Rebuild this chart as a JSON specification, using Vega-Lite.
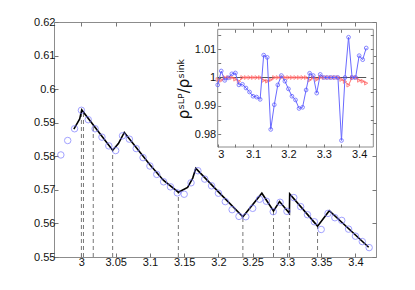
{
  "$schema": "https://vega.github.io/schema/vega-lite/v6.json",
  "width": 322,
  "height": 235,
  "autosize": {"type": "none"},
  "padding": {"left": 54, "top": 22, "right": 39, "bottom": 33},
  "background": "white",
  "config": {
    "view": {"stroke": "#8c8c8c", "strokeWidth": 1},
    "axis": {"labelFont": "Liberation Sans", "labelFontSize": 11, "labelColor": "#111111", "tickColor": "#777777", "domain": false, "grid": false, "titleFont": "DejaVu Sans", "titleColor": "#111111", "titleFontWeight": "normal"}
  },
  "datasets": {
    "pts": [
      {"x": 2.97, "y": 0.5804}, {"x": 2.98, "y": 0.5847}, {"x": 2.99, "y": 0.5882}, {"x": 3.00, "y": 0.5937},
      {"x": 3.01, "y": 0.5909}, {"x": 3.02, "y": 0.5882}, {"x": 3.03, "y": 0.5857}, {"x": 3.04, "y": 0.5831},
      {"x": 3.05, "y": 0.5817}, {"x": 3.06, "y": 0.5861}, {"x": 3.07, "y": 0.5851}, {"x": 3.08, "y": 0.5823},
      {"x": 3.09, "y": 0.5796}, {"x": 3.10, "y": 0.5771}, {"x": 3.11, "y": 0.5746}, {"x": 3.12, "y": 0.5724},
      {"x": 3.13, "y": 0.5709}, {"x": 3.14, "y": 0.5691}, {"x": 3.15, "y": 0.5687}, {"x": 3.16, "y": 0.5721},
      {"x": 3.17, "y": 0.5757}, {"x": 3.18, "y": 0.5732}, {"x": 3.19, "y": 0.5712}, {"x": 3.20, "y": 0.5690},
      {"x": 3.21, "y": 0.5665}, {"x": 3.22, "y": 0.5641}, {"x": 3.23, "y": 0.5621}, {"x": 3.24, "y": 0.5620},
      {"x": 3.25, "y": 0.5645}, {"x": 3.26, "y": 0.5672}, {"x": 3.27, "y": 0.5666}, {"x": 3.28, "y": 0.5635},
      {"x": 3.29, "y": 0.5663}, {"x": 3.30, "y": 0.5636}, {"x": 3.31, "y": 0.5677}, {"x": 3.32, "y": 0.5650},
      {"x": 3.33, "y": 0.5626}, {"x": 3.34, "y": 0.5605}, {"x": 3.35, "y": 0.5582}, {"x": 3.36, "y": 0.5630},
      {"x": 3.37, "y": 0.5617}, {"x": 3.38, "y": 0.5609}, {"x": 3.39, "y": 0.5583}, {"x": 3.40, "y": 0.5562},
      {"x": 3.41, "y": 0.5546}, {"x": 3.42, "y": 0.5528}
    ],
    "fit": [
      {"x": 2.989, "y": 0.5881}, {"x": 2.9975, "y": 0.5911}, {"x": 3.0005, "y": 0.5938}, {"x": 3.0456, "y": 0.5818},
      {"x": 3.054, "y": 0.5838}, {"x": 3.0626, "y": 0.5871}, {"x": 3.08, "y": 0.5826}, {"x": 3.10, "y": 0.5775},
      {"x": 3.12, "y": 0.5728}, {"x": 3.1415, "y": 0.5693}, {"x": 3.155, "y": 0.5707}, {"x": 3.1625, "y": 0.5735},
      {"x": 3.167, "y": 0.5764}, {"x": 3.20, "y": 0.5694}, {"x": 3.2357, "y": 0.5620}, {"x": 3.2634, "y": 0.5690},
      {"x": 3.2804, "y": 0.5637}, {"x": 3.2892, "y": 0.5665}, {"x": 3.3036, "y": 0.5630}, {"x": 3.3040, "y": 0.5688},
      {"x": 3.3447, "y": 0.5592}, {"x": 3.3618, "y": 0.5638}, {"x": 3.4193, "y": 0.5529}
    ],
    "events": [
      {"x": 3.000, "bottom": 0.55, "top": 0.5936}, {"x": 3.003, "bottom": 0.55, "top": 0.5930}, {"x": 3.0173, "bottom": 0.55, "top": 0.5893},
      {"x": 3.0456, "bottom": 0.55, "top": 0.5818}, {"x": 3.1415, "bottom": 0.55, "top": 0.5693}, {"x": 3.2357, "bottom": 0.55, "top": 0.5620},
      {"x": 3.2804, "bottom": 0.55, "top": 0.5637}, {"x": 3.3036, "bottom": 0.55, "top": 0.5630}, {"x": 3.3447, "bottom": 0.55, "top": 0.5592}
    ],
    "box": [
      {"x1": 3.0, "x2": 3.44, "y1": 0.9755, "y2": 1.017, "rx2": 3.42, "ref": 1.0}
    ],
    "ratio": [
      {"x": 3.00, "blue": 0.9974, "red": 0.9993}, {"x": 3.01, "blue": 1.0023, "red": 0.9990},
      {"x": 3.02, "blue": 0.9990, "red": 1.0}, {"x": 3.03, "blue": 0.9999, "red": 1.0},
      {"x": 3.04, "blue": 1.0013, "red": 1.0}, {"x": 3.05, "blue": 1.0016, "red": 0.9994},
      {"x": 3.06, "blue": 0.9974, "red": 0.9986}, {"x": 3.07, "blue": 0.9976, "red": 1.0},
      {"x": 3.08, "blue": 0.9963, "red": 1.0}, {"x": 3.09, "blue": 0.9949, "red": 1.0},
      {"x": 3.10, "blue": 0.9934, "red": 1.0}, {"x": 3.11, "blue": 0.9931, "red": 1.0},
      {"x": 3.12, "blue": 0.9923, "red": 1.0}, {"x": 3.13, "blue": 1.0079, "red": 0.9990},
      {"x": 3.14, "blue": 1.0071, "red": 0.9987}, {"x": 3.15, "blue": 0.9817, "red": 0.9992},
      {"x": 3.16, "blue": 0.9904, "red": 1.0}, {"x": 3.17, "blue": 0.9974, "red": 1.0},
      {"x": 3.18, "blue": 1.0007, "red": 1.0}, {"x": 3.19, "blue": 0.9987, "red": 1.0},
      {"x": 3.20, "blue": 0.9960, "red": 1.0}, {"x": 3.21, "blue": 0.9934, "red": 1.0},
      {"x": 3.22, "blue": 0.9921, "red": 1.0}, {"x": 3.23, "blue": 0.9891, "red": 1.0},
      {"x": 3.24, "blue": 0.9895, "red": 1.0}, {"x": 3.25, "blue": 0.9956, "red": 1.0},
      {"x": 3.26, "blue": 1.0015, "red": 0.9991}, {"x": 3.27, "blue": 1.0007, "red": 1.0},
      {"x": 3.28, "blue": 0.9945, "red": 0.9993}, {"x": 3.29, "blue": 1.0011, "red": 1.0},
      {"x": 3.30, "blue": 1.0, "red": 1.0}, {"x": 3.31, "blue": 1.0, "red": 1.0},
      {"x": 3.32, "blue": 1.0, "red": 1.0}, {"x": 3.33, "blue": 1.0, "red": 1.0},
      {"x": 3.34, "blue": 1.0, "red": 1.0}, {"x": 3.35, "blue": 0.9778, "red": 0.9993},
      {"x": 3.36, "blue": 1.0, "red": 0.9986}, {"x": 3.37, "blue": 1.0142, "red": 0.9973},
      {"x": 3.38, "blue": 1.0, "red": 1.0}, {"x": 3.39, "blue": 1.0, "red": 1.0},
      {"x": 3.40, "blue": 1.0077, "red": 0.9990}, {"x": 3.41, "blue": 1.0063, "red": 0.9987},
      {"x": 3.42, "blue": 1.0104, "red": 0.9980}
    ]
  },
  "layer": [
    {
      "data": {"name": "events"},
      "mark": {"type": "rule", "color": "#777777", "strokeWidth": 1, "strokeDash": [4, 3]},
      "encoding": {
        "x": {"field": "x", "type": "quantitative", "scale": {"domain": [2.96, 3.43], "nice": false, "zero": false}, "axis": null},
        "y": {"field": "bottom", "type": "quantitative", "scale": {"domain": [0.55, 0.62], "nice": false, "zero": false}, "axis": null},
        "y2": {"field": "top"}
      }
    },
    {
      "data": {"name": "fit"},
      "mark": {"type": "line", "color": "black", "strokeWidth": 1.6},
      "encoding": {
        "x": {"field": "x", "type": "quantitative", "scale": {"domain": [2.96, 3.43], "nice": false, "zero": false},
              "axis": {"orient": "top", "values": [3, 3.05, 3.1, 3.15, 3.2, 3.25, 3.3, 3.35, 3.4], "labels": false, "tickSize": -4, "title": null}},
        "y": {"field": "y", "type": "quantitative", "scale": {"domain": [0.55, 0.62], "nice": false, "zero": false},
              "axis": {"orient": "right", "values": [0.55, 0.56, 0.57, 0.58, 0.59, 0.6, 0.61, 0.62], "labels": false, "tickSize": -4, "title": null}}
      }
    },
    {
      "data": {"name": "pts"},
      "mark": {"type": "point", "shape": "circle", "filled": false, "color": "#7b7bff", "size": 42, "strokeWidth": 1},
      "encoding": {
        "x": {"field": "x", "type": "quantitative", "scale": {"domain": [2.96, 3.43], "nice": false, "zero": false},
              "axis": {"orient": "bottom", "values": [3, 3.05, 3.1, 3.15, 3.2, 3.25, 3.3, 3.35, 3.4], "format": "~g", "tickSize": -4, "labelPadding": 3, "title": null}},
        "y": {"field": "y", "type": "quantitative", "scale": {"domain": [0.55, 0.62], "nice": false, "zero": false},
              "axis": {"orient": "left", "values": [0.55, 0.56, 0.57, 0.58, 0.59, 0.6, 0.61, 0.62], "format": "~g", "tickSize": -4, "labelPadding": 3, "title": null}}
      }
    },
    {
      "data": {"name": "box"},
      "mark": {"type": "rect", "fill": "white", "stroke": "#8c8c8c", "strokeWidth": 1},
      "encoding": {
        "x": {"field": "x1", "type": "quantitative", "scale": {"domain": [3.0, 3.44], "range": [163.7, 319.3], "nice": false, "zero": false}, "axis": null},
        "x2": {"field": "x2"},
        "y": {"field": "y1", "type": "quantitative", "scale": {"domain": [0.9755, 1.017], "range": [125, 7.3], "nice": false, "zero": false}, "axis": null},
        "y2": {"field": "y2"}
      }
    },
    {
      "data": {"name": "box"},
      "mark": {"type": "rule", "color": "#555555", "strokeWidth": 1},
      "encoding": {
        "x": {"field": "x1", "type": "quantitative", "scale": {"domain": [3.0, 3.44], "range": [163.7, 319.3], "nice": false, "zero": false}, "axis": null},
        "x2": {"field": "rx2"},
        "y": {"field": "ref", "type": "quantitative", "scale": {"domain": [0.9755, 1.017], "range": [125, 7.3], "nice": false, "zero": false}, "axis": null}
      }
    },
    {
      "data": {"name": "ratio"},
      "mark": {"type": "line", "color": "#ff7272", "strokeWidth": 1},
      "encoding": {
        "x": {"field": "x", "type": "quantitative", "scale": {"domain": [3.0, 3.44], "range": [163.7, 319.3], "nice": false, "zero": false},
              "axis": {"orient": "top", "offset": -7.3, "values": [3.05, 3.1, 3.15, 3.2, 3.25, 3.3, 3.35, 3.4], "labels": false, "tickSize": -3, "title": null, "zindex": 1}},
        "y": {"field": "red", "type": "quantitative", "scale": {"domain": [0.9755, 1.017], "range": [125, 7.3], "nice": false, "zero": false},
              "axis": {"orient": "right", "offset": -2.7, "values": [0.98, 0.985, 0.99, 0.995, 1, 1.005, 1.01, 1.015], "labels": false, "tickSize": -3, "title": null, "zindex": 1}}
      }
    },
    {
      "data": {"name": "ratio"},
      "mark": {"type": "point", "shape": "triangle-right", "filled": false, "color": "#ff5a5a", "size": 14, "strokeWidth": 1},
      "encoding": {
        "x": {"field": "x", "type": "quantitative", "scale": {"domain": [3.0, 3.44], "range": [163.7, 319.3], "nice": false, "zero": false}, "axis": null},
        "y": {"field": "red", "type": "quantitative", "scale": {"domain": [0.9755, 1.017], "range": [125, 7.3], "nice": false, "zero": false}, "axis": null}
      }
    },
    {
      "data": {"name": "ratio"},
      "mark": {"type": "line", "color": "#6a6aff", "strokeWidth": 1},
      "encoding": {
        "x": {"field": "x", "type": "quantitative", "scale": {"domain": [3.0, 3.44], "range": [163.7, 319.3], "nice": false, "zero": false},
              "axis": {"orient": "bottom", "offset": -110, "values": [3, 3.05, 3.1, 3.15, 3.2, 3.25, 3.3, 3.35, 3.4], "labelExpr": "indexof([3, 3.1, 3.2, 3.3, 3.4], datum.value) >= 0 ? format(datum.value, '~g') : ''", "tickSize": -3, "labelPadding": 4, "title": null, "zindex": 1}},
        "y": {"field": "blue", "type": "quantitative", "scale": {"domain": [0.9755, 1.017], "range": [125, 7.3], "nice": false, "zero": false},
              "axis": {"orient": "left", "offset": -163.7, "values": [0.98, 0.985, 0.99, 0.995, 1, 1.005, 1.01, 1.015], "labelExpr": "indexof([0.98, 0.99, 1, 1.01], datum.value) >= 0 ? format(datum.value, '~g') : ''", "tickSize": -3, "labelPadding": 5, "title": "ρˢᴸᴾ/ρˢⁱⁿᵏ", "titleFontSize": 15, "titlePadding": 3, "zindex": 1}}
      }
    },
    {
      "data": {"name": "ratio"},
      "mark": {"type": "point", "shape": "circle", "filled": false, "color": "#5050ff", "size": 14, "strokeWidth": 1},
      "encoding": {
        "x": {"field": "x", "type": "quantitative", "scale": {"domain": [3.0, 3.44], "range": [163.7, 319.3], "nice": false, "zero": false}, "axis": null},
        "y": {"field": "blue", "type": "quantitative", "scale": {"domain": [0.9755, 1.017], "range": [125, 7.3], "nice": false, "zero": false}, "axis": null}
      }
    }
  ],
  "resolve": {"scale": {"x": "independent", "y": "independent"}}
}
